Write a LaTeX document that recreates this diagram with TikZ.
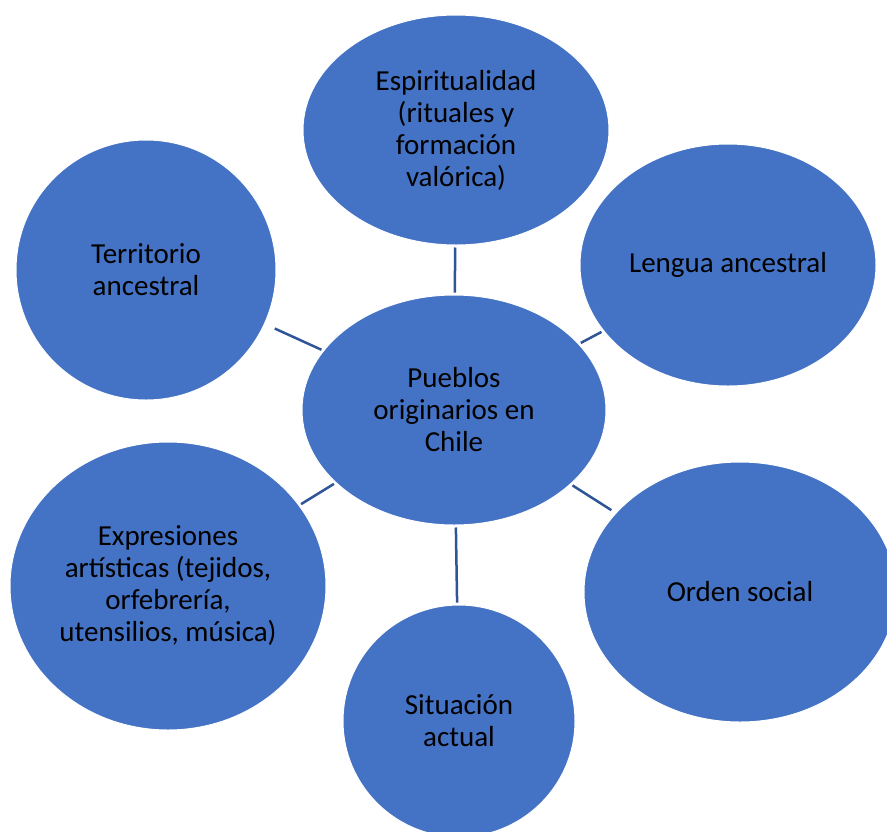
\documentclass[tikz,border=0pt]{standalone}
\usepackage{fontspec}
\setmainfont{Carlito}
\usetikzlibrary{shapes.geometric}
\definecolor{bubblefill}{HTML}{4472C4}
\definecolor{spokeline}{HTML}{2F5597}
\begin{document}
\begin{tikzpicture}[x=1pt,y=-1pt,
  bubble/.style={ellipse,fill=bubblefill,draw=white,line width=1pt,inner sep=-40pt,
    align=center,text=black,font=\fontsize{29}{32}\selectfont},
  spoke/.style={draw=spokeline,line width=2.5pt,shorten >=2pt,shorten <=2pt}]
\useasboundingbox (0,0) rectangle (887,831);
\clip (0,0) rectangle (887,831);
% center
\node[bubble,minimum width=304pt,minimum height=230pt] (pueblos) at (454,410) {Pueblos\\originarios en\\Chile};
% ring
\node[bubble,minimum width=306pt,minimum height=230pt] (espiritualidad) at (456,130) {Espiritualidad\\(rituales y\\formación\\valórica)};
\node[bubble,minimum width=260pt,minimum height=260pt] (territorio) at (146,270) {Territorio\\ancestral};
\node[bubble,minimum width=296pt,minimum height=242pt] (lengua) at (728,265) {Lengua ancestral};
\node[bubble,minimum width=316pt,minimum height=288pt] (expresiones) at (168,586) {Expresiones\\artísticas (tejidos,\\orfebrería,\\utensilios, música)};
\node[bubble,minimum width=312pt,minimum height=260pt] (orden) at (740,592) {Orden social};
\node[bubble,minimum width=232pt,minimum height=232pt] (situacion) at (459,721) {Situación\\actual};
% spokes
\draw[spoke] (pueblos) -- (espiritualidad);
\draw[spoke,shorten >=11pt] (pueblos) -- (territorio);
\draw[spoke] (pueblos) -- (lengua);
\draw[spoke] (pueblos) -- (expresiones);
\draw[spoke,shorten >=5pt] (pueblos) -- (orden);
\draw[spoke] (pueblos) -- (situacion);
\end{tikzpicture}
\end{document}
